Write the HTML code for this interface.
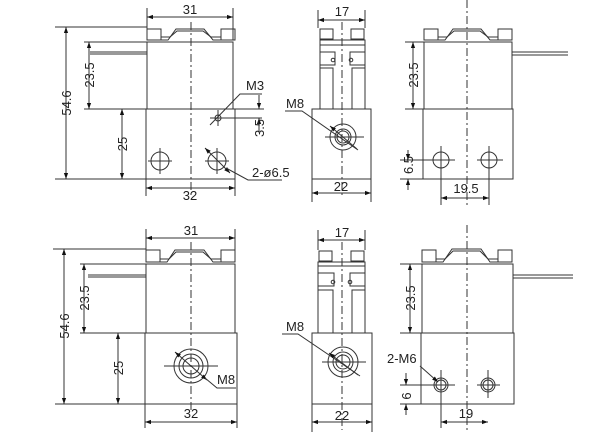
<!DOCTYPE html>
<html><head><style>
html,body{margin:0;padding:0;background:#fff}
svg{display:block}
text{font-family:"Liberation Sans",sans-serif;font-size:13px;fill:#222}
</style></head><body>
<svg width="600" height="438" viewBox="0 0 600 438" xmlns="http://www.w3.org/2000/svg">
<defs>
<marker id="a" viewBox="0 0 10 10" refX="10" refY="5" markerWidth="8" markerHeight="6" orient="auto-start-reverse"><path d="M0,1.5 L10,5 L0,8.5z" fill="#111"/></marker>
</defs>
<g stroke="#333" stroke-width="1" fill="none">

<!-- ===== TOP LEFT ===== -->
<rect x="147" y="42" width="86" height="67"/>
<rect x="146" y="109" width="89" height="70"/>
<rect x="147" y="29" width="14" height="11"/><rect x="221" y="29" width="14" height="11"/>
<path d="M161,40 L168,40 L176,29 L204,29 L213,40 L221,40"/>
<path d="M161,37 L170,37 L177,31 L203,31 L211,37 L221,37"/>
<line x1="90" y1="52" x2="147" y2="52"/><line x1="90" y1="54" x2="147" y2="54"/>
<line x1="191" y1="22" x2="191" y2="195" stroke-dasharray="8,3,2,3"/>
<circle cx="160" cy="161" r="9"/><circle cx="217" cy="161" r="9"/>
<line x1="148" y1="161" x2="172" y2="161"/><line x1="160" y1="148" x2="160" y2="174"/>
<line x1="205" y1="161" x2="229" y2="161"/><line x1="217" y1="148" x2="217" y2="174"/>
<circle cx="218" cy="118" r="3"/>
<line x1="210" y1="118" x2="262" y2="118"/><line x1="218" y1="110" x2="218" y2="126"/>
<line x1="147" y1="8" x2="147" y2="40"/><line x1="233" y1="8" x2="233" y2="40"/>
<line x1="147" y1="17" x2="233" y2="17" marker-start="url(#a)" marker-end="url(#a)"/>
<line x1="146" y1="179" x2="146" y2="196"/><line x1="235" y1="179" x2="235" y2="196"/>
<line x1="146" y1="188" x2="235" y2="188" marker-start="url(#a)" marker-end="url(#a)"/>
<line x1="55" y1="27" x2="147" y2="27"/><line x1="55" y1="179" x2="146" y2="179"/>
<line x1="66" y1="27" x2="66" y2="179" marker-start="url(#a)" marker-end="url(#a)"/>
<line x1="84" y1="42" x2="147" y2="42"/><line x1="84" y1="109" x2="146" y2="109"/>
<line x1="89" y1="42" x2="89" y2="109" marker-start="url(#a)" marker-end="url(#a)"/>
<line x1="122" y1="109" x2="122" y2="179" marker-start="url(#a)" marker-end="url(#a)"/>
<line x1="259" y1="95" x2="259" y2="109" marker-end="url(#a)"/>
<line x1="259" y1="132" x2="259" y2="118" marker-end="url(#a)"/>
<line x1="235" y1="109" x2="264" y2="109"/>
<path d="M262,94 L240,94 L210,125"/>
<line x1="205" y1="148" x2="230" y2="173" marker-start="url(#a)" marker-end="url(#a)"/>
<path d="M226,168 L248,180 L282,180"/>

<!-- ===== TOP MIDDLE ===== -->
<rect x="312" y="109" width="59" height="70"/>
<rect x="320" y="40" width="45" height="69"/>
<rect x="320" y="29" width="13" height="10"/><rect x="351" y="29" width="13" height="10"/>
<line x1="320" y1="45" x2="365" y2="45"/>
<path d="M320,52 L335,52 L335,65 L320,65 M365,52 L350,52 L350,65 L365,65"/>
<path d="M320,68 L333,68 L333,109 M365,68 L352,68 L352,109"/>
<circle cx="333" cy="60" r="1.8"/><circle cx="351" cy="60" r="1.8"/>
<line x1="342" y1="22" x2="342" y2="198" stroke-dasharray="8,3,2,3"/>
<circle cx="343" cy="137" r="13"/><circle cx="343" cy="137" r="8"/><circle cx="343" cy="137" r="6"/>
<line x1="325" y1="137" x2="364" y2="137"/>
<line x1="318" y1="10" x2="318" y2="28"/><line x1="365" y1="10" x2="365" y2="28"/>
<line x1="318" y1="20" x2="365" y2="20" marker-start="url(#a)" marker-end="url(#a)"/>
<line x1="312" y1="179" x2="312" y2="202"/><line x1="371" y1="179" x2="371" y2="202"/>
<line x1="312" y1="193" x2="371" y2="193" marker-start="url(#a)" marker-end="url(#a)"/>
<path d="M285,111 L302,111 L358,150"/>
<line x1="330" y1="126" x2="357" y2="149" marker-start="url(#a)"/>

<!-- ===== TOP RIGHT ===== -->
<rect x="424" y="42" width="88" height="67"/>
<rect x="423" y="109" width="90" height="70"/>
<rect x="424" y="29" width="14" height="11"/><rect x="498" y="29" width="14" height="11"/>
<path d="M438,40 L445,40 L453,29 L481,29 L490,40 L498,40"/>
<path d="M438,37 L447,37 L454,31 L480,31 L488,37 L498,37"/>
<line x1="512" y1="52" x2="568" y2="52"/><line x1="512" y1="55" x2="568" y2="55"/>
<line x1="467" y1="0" x2="467" y2="205" stroke-dasharray="8,3,2,3"/>
<circle cx="441" cy="160" r="8"/><circle cx="489" cy="160" r="8"/>
<line x1="400" y1="160" x2="455" y2="160"/><line x1="441" y1="146" x2="441" y2="205"/>
<line x1="477" y1="160" x2="503" y2="160"/><line x1="489" y1="146" x2="489" y2="205"/>
<line x1="405" y1="42" x2="424" y2="42"/><line x1="405" y1="109" x2="423" y2="109"/>
<line x1="413" y1="42" x2="413" y2="109" marker-start="url(#a)" marker-end="url(#a)"/>
<line x1="400" y1="179" x2="423" y2="179"/>
<line x1="408" y1="150" x2="408" y2="160" marker-end="url(#a)"/>
<line x1="408" y1="190" x2="408" y2="179" marker-end="url(#a)"/>
<line x1="441" y1="198" x2="489" y2="198" marker-start="url(#a)" marker-end="url(#a)"/>

<!-- ===== BOTTOM LEFT ===== -->
<rect x="146" y="264" width="89" height="69"/>
<rect x="145" y="333" width="92" height="71"/>
<rect x="146" y="250" width="14" height="12"/><rect x="221" y="250" width="14" height="12"/>
<path d="M160,262 L167,262 L175,250 L204,250 L213,262 L221,262"/>
<path d="M160,259 L169,259 L176,252 L203,252 L211,259 L221,259"/>
<line x1="88" y1="275" x2="146" y2="275"/><line x1="88" y1="277" x2="146" y2="277"/>
<line x1="191" y1="242" x2="191" y2="410" stroke-dasharray="8,3,2,3"/>
<circle cx="191" cy="366" r="17"/><circle cx="191" cy="366" r="12"/><circle cx="191" cy="366" r="8"/>
<line x1="164" y1="366" x2="218" y2="366"/>
<line x1="146" y1="229" x2="146" y2="262"/><line x1="235" y1="229" x2="235" y2="262"/>
<line x1="146" y1="238" x2="235" y2="238" marker-start="url(#a)" marker-end="url(#a)"/>
<line x1="145" y1="404" x2="145" y2="428"/><line x1="237" y1="404" x2="237" y2="428"/>
<line x1="145" y1="422" x2="237" y2="422" marker-start="url(#a)" marker-end="url(#a)"/>
<line x1="53" y1="249" x2="146" y2="249"/><line x1="55" y1="404" x2="145" y2="404"/>
<line x1="64" y1="249" x2="64" y2="404" marker-start="url(#a)" marker-end="url(#a)"/>
<line x1="80" y1="264" x2="146" y2="264"/><line x1="80" y1="333" x2="145" y2="333"/>
<line x1="84" y1="264" x2="84" y2="333" marker-start="url(#a)" marker-end="url(#a)"/>
<line x1="118" y1="333" x2="118" y2="404" marker-start="url(#a)" marker-end="url(#a)"/>
<line x1="175" y1="352" x2="207" y2="380" marker-start="url(#a)" marker-end="url(#a)"/>
<path d="M205,378 L217,388 L236,388"/>

<!-- ===== BOTTOM MIDDLE ===== -->
<rect x="312" y="333" width="60" height="71"/>
<rect x="318" y="262" width="47" height="71"/>
<rect x="319" y="251" width="13" height="10"/><rect x="351" y="251" width="13" height="10"/>
<line x1="318" y1="266" x2="365" y2="266"/>
<path d="M318,273 L334,273 L334,286 L318,286 M365,273 L350,273 L350,286 L365,286"/>
<path d="M318,290 L333,290 L333,333 M365,290 L352,290 L352,333"/>
<circle cx="333" cy="282" r="1.8"/><circle cx="350" cy="282" r="1.8"/>
<line x1="342" y1="242" x2="342" y2="430" stroke-dasharray="8,3,2,3"/>
<circle cx="343" cy="362" r="15"/><circle cx="343" cy="362" r="10"/><circle cx="343" cy="362" r="7"/>
<line x1="322" y1="362" x2="366" y2="362"/>
<line x1="318" y1="230" x2="318" y2="250"/><line x1="365" y1="230" x2="365" y2="250"/>
<line x1="318" y1="240" x2="365" y2="240" marker-start="url(#a)" marker-end="url(#a)"/>
<line x1="312" y1="404" x2="312" y2="432"/><line x1="372" y1="404" x2="372" y2="432"/>
<line x1="312" y1="422" x2="372" y2="422" marker-start="url(#a)" marker-end="url(#a)"/>
<path d="M282,334 L298,334 L360,376"/>
<line x1="329" y1="353" x2="358" y2="375" marker-start="url(#a)"/>

<!-- ===== BOTTOM RIGHT ===== -->
<rect x="422" y="264" width="91" height="69"/>
<rect x="421" y="333" width="93" height="71"/>
<rect x="422" y="250" width="14" height="12"/><rect x="498" y="250" width="14" height="12"/>
<path d="M436,262 L443,262 L452,249 L481,249 L490,262 L498,262"/>
<path d="M436,259 L445,259 L453,251 L480,251 L488,259 L498,259"/>
<line x1="513" y1="275" x2="573" y2="275"/><line x1="513" y1="278" x2="573" y2="278"/>
<line x1="467" y1="225" x2="467" y2="430" stroke-dasharray="8,3,2,3"/>
<circle cx="441" cy="385" r="7"/><circle cx="441" cy="385" r="5"/>
<circle cx="488" cy="385" r="7"/><circle cx="488" cy="385" r="5"/>
<line x1="400" y1="385" x2="455" y2="385"/><line x1="441" y1="370" x2="441" y2="428"/>
<line x1="477" y1="385" x2="500" y2="385"/><line x1="488" y1="370" x2="488" y2="398"/>
<line x1="400" y1="264" x2="422" y2="264"/><line x1="400" y1="333" x2="421" y2="333"/>
<line x1="410" y1="264" x2="410" y2="333" marker-start="url(#a)" marker-end="url(#a)"/>
<line x1="400" y1="404" x2="421" y2="404"/>
<line x1="406" y1="373" x2="406" y2="385" marker-end="url(#a)"/>
<line x1="406" y1="415" x2="406" y2="404" marker-end="url(#a)"/>
<line x1="441" y1="422" x2="488" y2="422" marker-start="url(#a)" marker-end="url(#a)"/>
<line x1="420" y1="366" x2="438" y2="382" marker-end="url(#a)"/>
</g>

<text x="190" y="14" text-anchor="middle">31</text>
<text x="190" y="200" text-anchor="middle">32</text>
<text transform="translate(71,103) rotate(-90)" text-anchor="middle">54.6</text>
<text transform="translate(94,75) rotate(-90)" text-anchor="middle">23.5</text>
<text transform="translate(127,144) rotate(-90)" text-anchor="middle">25</text>
<text x="246" y="90">M3</text>
<text transform="translate(264,128) rotate(-90)" text-anchor="middle">3.5</text>
<text x="252" y="177">2-ø6.5</text>

<text x="342" y="16" text-anchor="middle">17</text>
<text x="341" y="191" text-anchor="middle">22</text>
<text x="286" y="108">M8</text>

<text transform="translate(418,75) rotate(-90)" text-anchor="middle">23.5</text>
<text transform="translate(413,165) rotate(-90)" text-anchor="middle">6.5</text>
<text x="466" y="193" text-anchor="middle">19.5</text>

<text x="191" y="235" text-anchor="middle">31</text>
<text x="191" y="418" text-anchor="middle">32</text>
<text transform="translate(69,326) rotate(-90)" text-anchor="middle">54.6</text>
<text transform="translate(89,298) rotate(-90)" text-anchor="middle">23.5</text>
<text transform="translate(123,368) rotate(-90)" text-anchor="middle">25</text>
<text x="217" y="384">M8</text>

<text x="342" y="237" text-anchor="middle">17</text>
<text x="342" y="420" text-anchor="middle">22</text>
<text x="286" y="331">M8</text>

<text transform="translate(415,298) rotate(-90)" text-anchor="middle">23.5</text>
<text x="387" y="363">2-M6</text>
<text transform="translate(411,396) rotate(-90)" text-anchor="middle">6</text>
<text x="466" y="418" text-anchor="middle">19</text>
</svg>
</body></html>
